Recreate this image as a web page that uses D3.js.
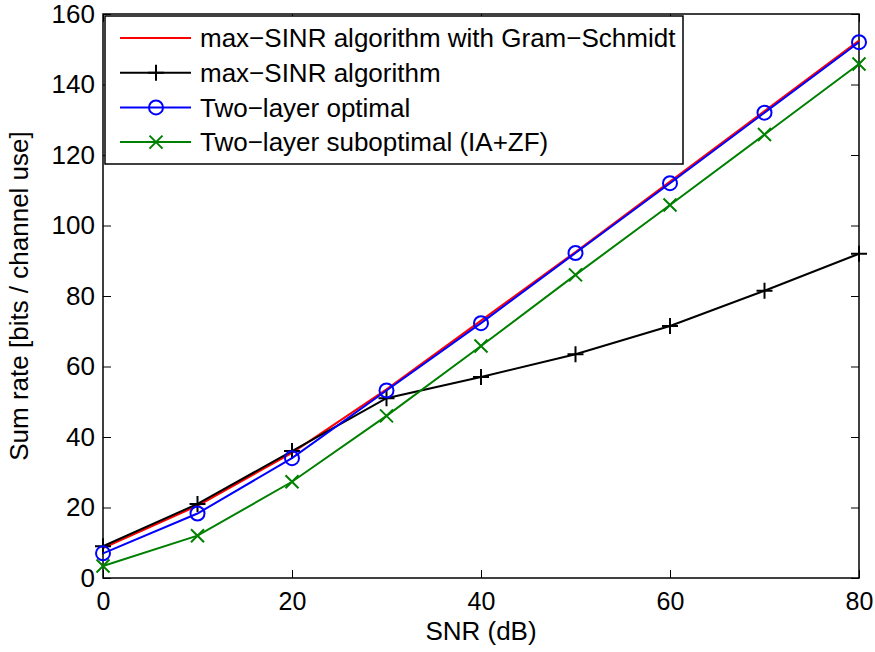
<!DOCTYPE html>
<html>
<head>
<meta charset="utf-8">
<script src="https://cdn.jsdelivr.net/npm/d3@7"></script>
<style>
  body { margin: 0; background: #fff; }
  text { font-family: "Liberation Sans", Arial, sans-serif; }
</style>
</head>
<body>
<div id="chart"></div>
<script>
const snr = [0, 10, 20, 30, 40, 50, 60, 70, 80];
const gramSchmidt = [8.5, 20.5, 35.5, 53.5, 73, 92.5, 112.5, 132.5, 152.5];
const maxSinr = [9, 21, 36, 51, 57, 63.5, 71.5, 81.5, 92];
const twoLayerOpt = [7, 18.3, 34, 53.2, 72.3, 92.2, 112, 132, 152];
const twoLayerSub = [3.4, 12, 27.3, 46, 65.8, 86, 105.8, 125.8, 145.8];
const xTicks = [0, 20, 40, 60, 80];
const yTicks = [0, 20, 40, 60, 80, 100, 120, 140, 160];

const series = [
  {name: "max\u2212SINR algorithm with Gram\u2212Schmidt", values: gramSchmidt, color: "#ff0000", marker: "none"},
  {name: "max\u2212SINR algorithm", values: maxSinr, color: "#000000", marker: "plus"},
  {name: "Two\u2212layer optimal", values: twoLayerOpt, color: "#0000ff", marker: "circle"},
  {name: "Two\u2212layer suboptimal (IA+ZF)", values: twoLayerSub, color: "#008000", marker: "cross"}
];

const W = 875, H = 652;
const margin = {top: 14, right: 16, bottom: 74, left: 103};
const width = W - margin.left - margin.right;
const height = H - margin.top - margin.bottom;

const svg = d3.select("#chart").append("svg")
  .attr("width", W).attr("height", H)
  .append("g")
  .attr("transform", `translate(${margin.left}, ${margin.top})`);

const x = d3.scaleLinear().domain([0, 80]).range([0, width]);
const y = d3.scaleLinear().domain([0, 160]).range([height, 0]);

// axes with inward ticks on all four sides
const tickLen = 8;
svg.append("g").attr("transform", `translate(0, ${height})`)
  .call(d3.axisBottom(x).tickValues(xTicks).tickSizeInner(-tickLen).tickSizeOuter(0).tickPadding(14))
  .call(g => g.selectAll("text").attr("font-size", 25));
svg.append("g")
  .call(d3.axisLeft(y).tickValues(yTicks).tickSizeInner(-tickLen).tickSizeOuter(0).tickPadding(8))
  .call(g => g.selectAll("text").attr("font-size", 26));
svg.append("g")
  .call(d3.axisTop(x).tickValues(xTicks).tickSizeInner(-tickLen).tickSizeOuter(0).tickFormat(""));
svg.append("g").attr("transform", `translate(${width}, 0)`)
  .call(d3.axisRight(y).tickValues(yTicks).tickSizeInner(-tickLen).tickSizeOuter(0).tickFormat(""));
svg.selectAll(".domain").remove();
svg.selectAll(".tick line").attr("stroke", "#000").attr("stroke-width", 1);
svg.append("rect").attr("width", width).attr("height", height)
  .attr("fill", "none").attr("stroke", "#000").attr("stroke-width", 1.5);

// lines
const line = d3.line().x((d, i) => x(snr[i])).y(d => y(d));

function drawMarker(g, type, cx, cy, color) {
  if (type === "circle") {
    g.append("circle").attr("cx", cx).attr("cy", cy).attr("r", 7)
      .attr("fill", "none").attr("stroke", color).attr("stroke-width", 2);
  } else if (type === "plus") {
    const s = 8;
    g.append("path").attr("d", `M${cx - s},${cy}H${cx + s}M${cx},${cy - s}V${cy + s}`)
      .attr("stroke", color).attr("stroke-width", 2);
  } else if (type === "cross") {
    const s = 6.5;
    g.append("path").attr("d", `M${cx - s},${cy - s}L${cx + s},${cy + s}M${cx - s},${cy + s}L${cx + s},${cy - s}`)
      .attr("stroke", color).attr("stroke-width", 2);
  }
}

series.forEach(s => {
  svg.append("path").datum(s.values)
    .attr("d", line).attr("fill", "none")
    .attr("stroke", s.color).attr("stroke-width", 2);
  const mg = svg.append("g");
  s.values.forEach((v, i) => drawMarker(mg, s.marker, x(snr[i]), y(v), s.color));
});

// legend
const lg = svg.append("g").attr("transform", `translate(2, 2)`);
lg.append("rect").attr("width", 578).attr("height", 148)
  .attr("fill", "#fff").attr("stroke", "#000").attr("stroke-width", 1.5);
series.forEach((s, i) => {
  const ly = 22 + i * 34.7;
  lg.append("line").attr("x1", 15).attr("x2", 86).attr("y1", ly).attr("y2", ly)
    .attr("stroke", s.color).attr("stroke-width", 2);
  drawMarker(lg, s.marker, 51, ly, s.color);
  lg.append("text").attr("x", 95).attr("y", ly).attr("dy", "0.35em")
    .attr("font-size", 26).text(s.name);
});

// axis labels
svg.append("text").attr("x", width / 2).attr("y", height + 62)
  .attr("text-anchor", "middle").attr("font-size", 26).text("SNR (dB)");
svg.append("text")
  .attr("transform", `translate(${-75}, ${height / 2}) rotate(-90)`)
  .attr("text-anchor", "middle").attr("font-size", 26).text("Sum rate [bits / channel use]");
</script>
</body>
</html>
